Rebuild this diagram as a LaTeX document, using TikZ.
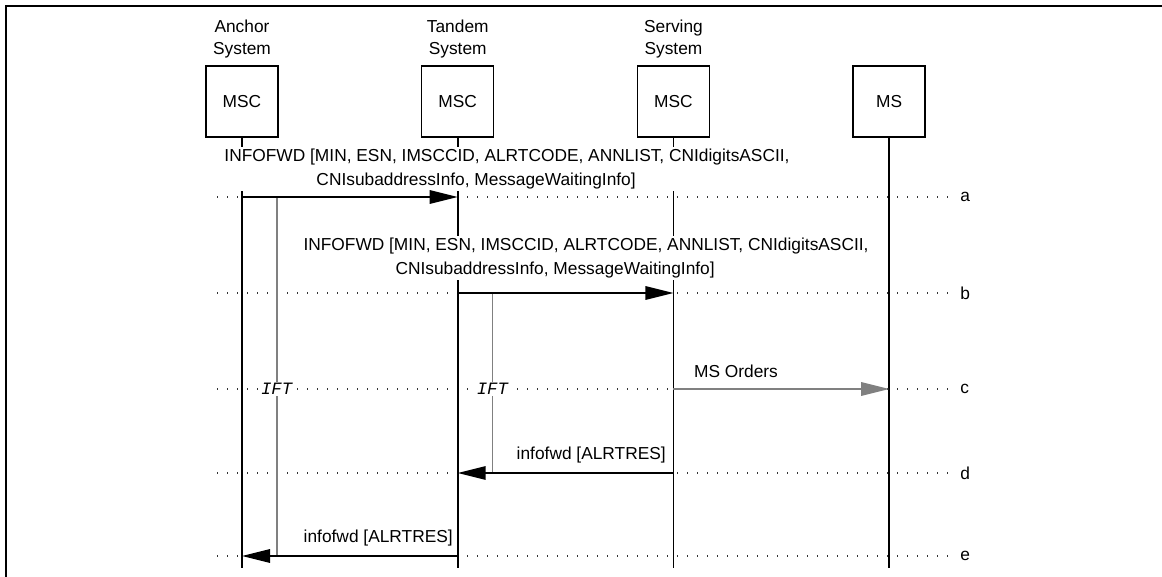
\documentclass[tikz,border=0pt]{standalone}
\usepackage{fontspec}
\setmainfont{Liberation Sans}
\setmonofont{Liberation Mono}
\usepackage{tikz}
\usetikzlibrary{arrows.meta,positioning}

\begin{document}
\begin{tikzpicture}[
  x=0.75pt, y=-0.75pt,
  node distance=5.5pt and 106.7pt,
  entity/.style={draw, line width=1.1pt, minimum width=54pt, minimum height=53pt,
                 inner sep=0pt, font=\fontsize{13}{16.5}\selectfont},
  sysname/.style={align=center, inner sep=0pt, font=\fontsize{13}{16.5}\selectfont},
  lifeline/.style={line width=1.3pt},
  rowline/.style={line width=0.8pt, black!80, dash pattern=on 0.75pt off 6.75pt},
  msg/.style={-{Triangle[length=21pt,width=10pt]}, line width=1.5pt},
  msggray/.style={msg, black!50},
  msglabel/.style={fill=white, align=left, inner sep=1.5pt, font=\fontsize{13}{18}\selectfont},
  timer/.style={black!50, line width=1.3pt},
  timerlabel/.style={fill=white, inner sep=1pt, font=\fontsize{13}{15}\selectfont\ttfamily\itshape},
  rowname/.style={anchor=west, inner sep=0pt, font=\fontsize{13}{15}\selectfont}
]
\useasboundingbox (0,0) rectangle (1162,577);
\draw[line width=1.5pt] (6,577) -- (6,6) -- (1162,6);

\node[entity] (anchor) at (242,101.5) {MSC};
\node[entity, right=of anchor] (tandem) {MSC};
\node[entity, right=of tandem] (serving) {MSC};
\node[entity, right=of serving] (ms) {MS};
\node[sysname, above=of anchor] (anchorname) {Anchor\\System};
\node[sysname, above=of tandem] (tandemname) {Tandem\\System};
\node[sysname, above=of serving] (servingname) {Serving\\System};

\coordinate (bottom) at (0,568);
\foreach \r/\y in {a/197,b/293,c/389,d/473,e/556} {
  \coordinate (r\r) at (217,\y);
  \coordinate (r\r end) at (948,\y);
  \draw[rowline] (r\r) -- (r\r end);
  \node[rowname] (name\r) at (960,\y) {\r};
}
\foreach \n in {anchor,tandem,serving,ms}
  \draw[lifeline] (\n) -- (\n |- bottom);

\path (anchor |- ra) ++(26pt,0) coordinate (ift1top);
\path (tandem |- rb) ++(26pt,0) coordinate (ift2top);
\draw[timer] (ift1top) -- (ift1top |- re);
\draw[timer] (ift2top) -- (ift2top |- rd);
\node[timerlabel] (ift1) at (ift1top |- rc) {IFT};
\node[timerlabel] (ift2) at (ift2top |- rc) {IFT};

\node[msglabel] (msga) at (507,169) {INFOFWD [MIN, ESN, IMSCCID, ALRTCODE, ANNLIST, CNIdigitsASCII,\\
  \hspace*{69pt}CNIsubaddressInfo, MessageWaitingInfo]};
\node[msglabel] (msgb) at (586,258) {INFOFWD [MIN, ESN, IMSCCID, ALRTCODE, ANNLIST, CNIdigitsASCII,\\
  \hspace*{69pt}CNIsubaddressInfo, MessageWaitingInfo]};
\node[msglabel] (msgc) at (736,371) {MS Orders};
\node[msglabel, anchor=east] (msgd) at (668,455) {infofwd [ALRTRES]};
\node[msglabel, anchor=east] (msge) at (455,538) {infofwd [ALRTRES]};

\draw[msg] (anchor |- ra) -- (tandem |- ra);
\draw[msg] (tandem |- rb) -- (serving |- rb);
\draw[msggray] (serving |- rc) -- (ms |- rc);
\draw[msg] (serving |- rd) -- (tandem |- rd);
\draw[msg] (tandem |- re) -- (anchor |- re);
\end{tikzpicture}
\end{document}
